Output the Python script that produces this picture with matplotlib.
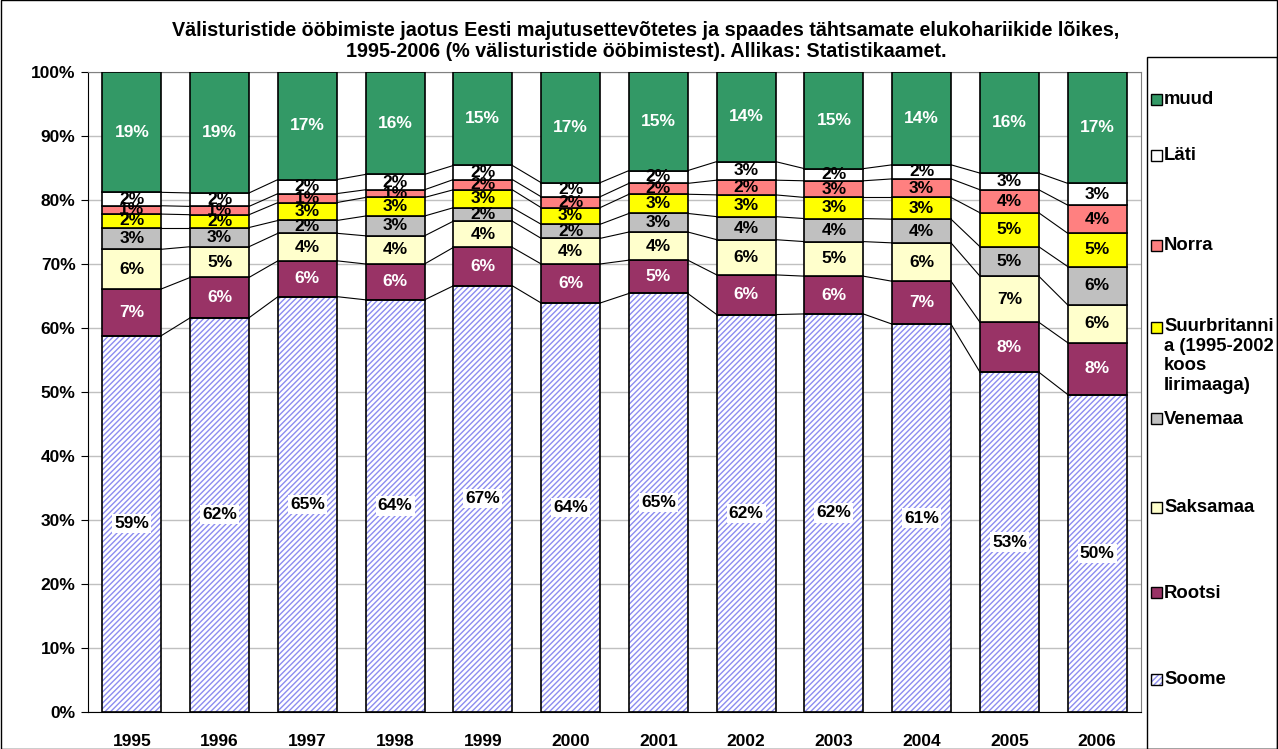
import matplotlib
matplotlib.use("Agg")
import matplotlib.pyplot as plt
import numpy as np
from matplotlib.patches import Rectangle

plt.rcParams['font.family'] = ['Liberation Sans', 'DejaVu Sans']
plt.rcParams['font.weight'] = 'bold'

years = ['1995', '1996', '1997', '1998', '1999', '2000', '2001', '2002', '2003', '2004', '2005', '2006']
series_names = ['Soome', 'Rootsi', 'Saksamaa', 'Venemaa',
                'Suurbritanni\na (1995-2002\nkoos\nIirimaaga)', 'Norra', 'Läti', 'muud']
soome    = [58.8, 61.6, 64.9, 64.4, 66.6, 63.9, 65.4, 62.1, 62.2, 60.6, 53.1, 49.6]
rootsi   = [7.3, 6.3, 5.6, 5.6, 6.0, 6.1, 5.2, 6.2, 5.9, 6.7, 7.8, 8.1]
saksamaa = [6.2, 4.8, 4.3, 4.4, 4.1, 4.0, 4.4, 5.5, 5.4, 6.0, 7.2, 5.9]
venemaa  = [3.4, 3.0, 2.0, 3.1, 2.1, 2.2, 2.9, 3.6, 3.6, 3.7, 4.6, 6.0]
suurbrit = [2.1, 2.0, 2.8, 2.9, 2.8, 2.6, 3.0, 3.4, 3.3, 3.4, 5.3, 5.2]
norra    = [1.3, 1.3, 1.4, 1.2, 1.6, 1.7, 1.7, 2.3, 2.6, 2.9, 3.6, 4.4]
lati     = [2.1, 2.1, 2.2, 2.4, 2.2, 2.2, 2.0, 2.9, 1.9, 2.2, 2.6, 3.4]
muud = [round(100 - sum(v), 1) for v in zip(soome, rootsi, saksamaa, venemaa, suurbrit, norra, lati)]

data = [soome, rootsi, saksamaa, venemaa, suurbrit, norra, lati, muud]
colors = ['white', '#993366', '#FFFFCC', '#C0C0C0', '#FFFF00', '#FF8080', '#FFFFFF', '#339966']
text_colors = ['black', 'white', 'black', 'black', 'black', 'black', 'black', 'white']
HATCH_COL = '#8C8CF0'

fig = plt.figure(figsize=(12.78, 7.49), dpi=100)
ax = fig.add_axes([88/1278, 1-712/749, (1141-88)/1278, (712-72)/749])

x = np.arange(len(years))
w = 0.67
bottom = np.zeros(len(years))
tops = []
for k, vals in enumerate(data):
    vals = np.array(vals)
    if k == 0:
        ax.bar(x, vals, w, bottom=bottom, color='white', edgecolor=HATCH_COL,
               hatch='//////', linewidth=0, zorder=3)
        ax.bar(x, vals, w, bottom=bottom, fill=False, edgecolor='black', linewidth=1.2, zorder=4)
    else:
        ax.bar(x, vals, w, bottom=bottom, color=colors[k], edgecolor='black', linewidth=1.2, zorder=3)
    for i, v in enumerate(vals):
        yc = bottom[i] + v / 2
        t = f"{round(v)}%"
        if k == 0:
            ax.text(x[i], yc, t, ha='center', va='center', fontsize=12.5, fontweight='bold',
                    color='black', zorder=6,
                    bbox=dict(facecolor='white', edgecolor='none', pad=1.5))
        else:
            ax.text(x[i], yc, t, ha='center', va='center', fontsize=12.5, fontweight='bold',
                    color=text_colors[k], zorder=6)
    bottom = bottom + vals
    tops.append(bottom.copy())

# series lines
for lvl in tops[:-1]:
    for i in range(len(years) - 1):
        ax.plot([x[i] + w/2, x[i+1] - w/2], [lvl[i], lvl[i+1]], color='black', lw=0.8, zorder=2)

ax.set_xlim(-0.5, len(years) - 0.5)
ax.set_ylim(0, 100)
ax.set_yticks(np.arange(0, 101, 10))
ax.set_yticklabels([f"{v}%" for v in range(0, 101, 10)], fontsize=12.5, fontweight='bold')
ax.set_xticks(x)
ax.set_xticklabels(years, fontsize=12.5, fontweight='bold')
ax.tick_params(axis='x', length=0, pad=16)
ax.tick_params(axis='y', length=5, direction='out', color='black', pad=4)
ax.yaxis.grid(True, color='#C0C0C0', lw=1, zorder=0)
ax.set_axisbelow(True)
for s in ['top', 'right']:
    ax.spines[s].set_color('#808080')
for s in ['left', 'bottom']:
    ax.spines[s].set_color('black')

fig.text(646/1278, 1-41/749,
         "Välisturistide ööbimiste jaotus Eesti majutusettevõtetes ja spaades tähtsamate elukohariikide lõikes,\n"
         "1995-2006 (% välisturistide ööbimistest). Allikas: Statistikaamet.",
         ha='center', va='center', fontsize=14.2, fontweight='bold', linespacing=1.1)

# legend box
fig.patches.append(Rectangle((1147/1278, 0.0), (1277-1147)/1278, (748-56)/749, transform=fig.transFigure,
                             fill=False, edgecolor='black', lw=1))
leg_y = [100, 156, 246, 328, 419, 508, 593, 680]
order = [7, 6, 5, 4, 3, 2, 1, 0]
for yy, k in zip(leg_y, order):
    bx, by = 1151/1278, 1-(yy+5)/749
    if k == 0:
        fig.patches.append(Rectangle((bx, by), 11/1278, 11/749, transform=fig.transFigure,
                                     facecolor='white', edgecolor=HATCH_COL, hatch='//////', lw=0))
        fig.patches.append(Rectangle((bx, by), 11/1278, 11/749, transform=fig.transFigure,
                                     fill=False, edgecolor='black', lw=1))
    else:
        fig.patches.append(Rectangle((bx, by), 11/1278, 11/749, transform=fig.transFigure,
                                     facecolor=colors[k], edgecolor='black', lw=1))
    if k == 4:
        fig.text(1164/1278, 1-(yy-10)/749, series_names[k], ha='left', va='top',
                 fontsize=13.3, fontweight='bold', linespacing=1.2)
    else:
        fig.text(1164/1278, 1-yy/749, series_names[k], ha='left', va='center',
                 fontsize=13.3, fontweight='bold')

fig.patches.append(Rectangle((0.0005, 0.0005), 0.999, 0.999, transform=fig.transFigure,
                             fill=False, edgecolor='black', lw=1))

fig.savefig('out.png', dpi=100)
